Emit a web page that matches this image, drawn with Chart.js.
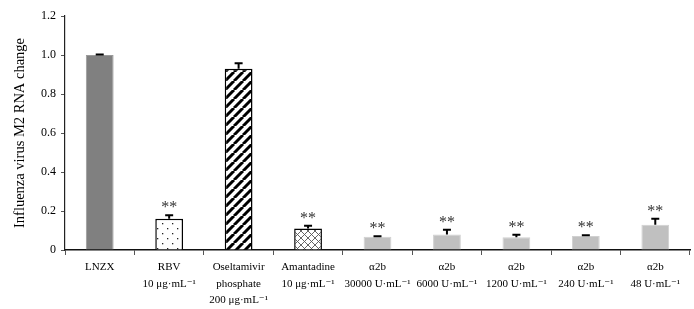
<!DOCTYPE html>
<html>
<head>
<meta charset="utf-8">
<script src="https://cdn.jsdelivr.net/npm/chart.js@4"></script>
<style>
  html, body { margin: 0; padding: 0; background: #fff; }
  #c { display: block; }
</style>
</head>
<body>
<canvas id="c" width="694" height="309"></canvas>
<script>
// chart data
const categories = [
    ['LNZX'],
    ['RBV', '10 μg·mL⁻¹'],
    ['Oseltamivir', 'phosphate', '200 μg·mL⁻¹'],
    ['Amantadine', '10 μg·mL⁻¹'],
    ['α2b', '30000 U·mL⁻¹'],
    ['α2b', '6000 U·mL⁻¹'],
    ['α2b', '1200 U·mL⁻¹'],
    ['α2b', '240 U·mL⁻¹'],
    ['α2b', '48 U·mL⁻¹']
];
const values = [1.0, 0.16, 0.93, 0.11, 0.068, 0.079, 0.065, 0.072, 0.13];
const errors = [0.003, 0.018, 0.028, 0.015, 0.003, 0.025, 0.013, 0.004, 0.03];
const marks = ['', '**', '', '**', '**', '**', '**', '**', '**'];
const yMin = 0;
const yMax = 1.2;
const yStep = 0.2;

const serif = '"Liberation Serif", "DejaVu Serif", serif';

function makePattern(size, draw) {
    const c = document.createElement('canvas');
    c.width = size; c.height = size;
    const g = c.getContext('2d');
    draw(g, size);
    return document.getElementById('c').getContext('2d').createPattern(c, 'repeat');
}

// white with sparse dots
const dots = makePattern(10, (g, s) => {
    g.fillStyle = '#fff'; g.fillRect(0, 0, s, s);
    g.fillStyle = '#222';
    g.fillRect(2, 3, 1.3, 1.3);
    g.fillRect(7, 8, 1.3, 1.3);
});

// bold diagonal stripes
const stripes = makePattern(9, (g, s) => {
    g.fillStyle = '#fff'; g.fillRect(0, 0, s, s);
    g.strokeStyle = '#000'; g.lineWidth = 3;
    for (let k = -1; k <= 1; k++) {
        g.beginPath();
        g.moveTo(k * s, s);
        g.lineTo(k * s + s, 0);
        g.stroke();
    }
});

// crosshatch
const hatch = makePattern(7, (g, s) => {
    g.fillStyle = '#fff'; g.fillRect(0, 0, s, s);
    g.strokeStyle = '#555'; g.lineWidth = 0.9;
    g.beginPath();
    g.moveTo(0, 0); g.lineTo(s, s);
    g.moveTo(s, 0); g.lineTo(0, s);
    g.stroke();
});

const fills = ['#808080', dots, stripes, hatch, '#c0c0c0', '#c0c0c0', '#c0c0c0', '#c0c0c0', '#c0c0c0'];
const borders = ['#9a9a9a', '#000', '#000', '#000', '#d0d0d0', '#d0d0d0', '#d0d0d0', '#d0d0d0', '#d0d0d0'];
const borderWidths = [1, 1.5, 1.5, 1.5, 1, 1, 1, 1, 1];

// error bars (upward only) and significance marks
const errorBars = {
    id: 'errorBars',
    afterDatasetsDraw(chart) {
        const ctx = chart.ctx;
        const y = chart.scales.y;
        const meta = chart.getDatasetMeta(0);
        ctx.save();
        meta.data.forEach((bar, i) => {
            const top = y.getPixelForValue(values[i]);
            const errTop = y.getPixelForValue(values[i] + errors[i]);
            ctx.strokeStyle = '#000';
            ctx.lineWidth = 2;
            ctx.beginPath();
            ctx.moveTo(bar.x, top);
            ctx.lineTo(bar.x, errTop);
            ctx.moveTo(bar.x - 4, errTop);
            ctx.lineTo(bar.x + 4, errTop);
            ctx.stroke();
            if (marks[i]) {
                ctx.fillStyle = '#333';
                ctx.font = '16px ' + serif;
                ctx.textAlign = 'center';
                ctx.textBaseline = 'alphabetic';
                ctx.fillText(marks[i], bar.x, errTop - 3);
            }
        });
        ctx.restore();
    }
};

new Chart(document.getElementById('c'), {
    type: 'bar',
    data: {
        labels: categories,
        datasets: [{
            data: values,
            backgroundColor: fills,
            borderColor: borders,
            borderWidth: borderWidths,
            barPercentage: 0.4,
            categoryPercentage: 1.0
        }]
    },
    options: {
        responsive: false,
        animation: false,
        devicePixelRatio: 1,
        layout: { padding: { top: 16, right: 4, left: 0, bottom: 0 } },
        plugins: {
            legend: { display: false },
            tooltip: { enabled: false }
        },
        scales: {
            x: {
                grid: { display: true, drawOnChartArea: false, drawTicks: true, tickLength: 5, color: '#555', offset: true },
                border: { display: true, color: '#111', width: 1.5 },
                ticks: {
                    color: '#000',
                    font: { family: serif, size: 11, lineHeight: 1.5 },
                    padding: 4,
                    maxRotation: 0,
                    autoSkip: false
                },
                afterFit(scale) { scale.height = 59; }
            },
            y: {
                min: yMin,
                max: yMax,
                grid: { display: true, drawOnChartArea: false, drawTicks: true, tickLength: 4, color: '#555' },
                border: { display: true, color: '#222', width: 1.2 },
                ticks: {
                    stepSize: yStep,
                    color: '#000',
                    font: { family: serif, size: 12 },
                    padding: 5,
                    callback: v => v === 0 ? '0' : v.toFixed(1)
                },
                title: {
                    display: true,
                    text: 'Influenza virus M2 RNA change',
                    color: '#000',
                    font: { family: serif, size: 14.5 },
                    padding: { top: 11, bottom: 0 }
                },
                afterFit(scale) { scale.width = 65; }
            }
        }
    },
    plugins: [errorBars]
});
</script>
</body>
</html>
